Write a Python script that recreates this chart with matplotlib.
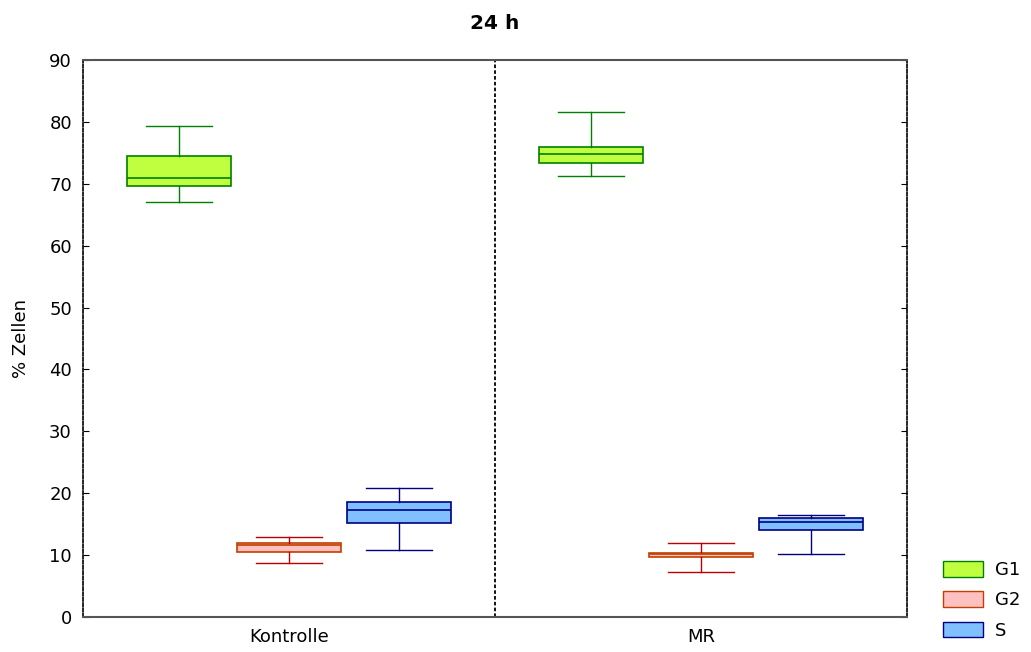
import matplotlib
matplotlib.use("Agg")
import matplotlib.pyplot as plt
from matplotlib.patches import Patch

plt.rcParams['font.family'] = ['DejaVu Sans']

# data (percent of cells)
groups = ["Kontrolle", "MR"]
series = ["G1", "G2", "S"]
whislo = [[67.0, 8.8, 10.8], [71.2, 7.3, 10.2]]
q1 = [[69.6, 10.45, 15.2], [73.3, 9.65, 14.05]]
med = [[70.9, 11.7, 17.3], [74.8, 10.1, 15.3]]
q3 = [[74.5, 11.9, 18.6], [75.9, 10.4, 16.05]]
whishi = [[79.3, 13.0, 20.8], [81.6, 12.0, 16.5]]

fills = ["#C0FF40", "#FFC0C0", "#80C0FF"]
edges = ["#008000", "#C04000", "#000080"]
whisk = ["#008000", "#C00000", "#000080"]

fig = plt.figure(figsize=(10.31, 6.52), dpi=100)
ax = fig.add_axes([0.0805, 0.0537, 0.7992, 0.8543])

offsets = [0.233, 0.5, 0.767]
for g in range(len(groups)):
    for s in range(len(series)):
        st = [dict(whislo=whislo[g][s], q1=q1[g][s], med=med[g][s],
                   q3=q3[g][s], whishi=whishi[g][s], fliers=[])]
        ax.bxp(st, positions=[g + offsets[s]], widths=0.252, patch_artist=True,
               showfliers=False, manage_ticks=False,
               boxprops=dict(facecolor=fills[s], edgecolor=edges[s], linewidth=1.2),
               medianprops=dict(color=edges[s], linewidth=1.2),
               whiskerprops=dict(color=whisk[s], linewidth=1),
               capprops=dict(color=whisk[s], linewidth=1),
               capwidths=0.16)

ax.set_xlim(0, 2)
ax.set_ylim(0, 90)
ax.set_yticks(range(0, 91, 10))
ax.set_xticks([0.5, 1.5])
ax.set_xticklabels(groups, fontsize=13)
ax.tick_params(axis='x', length=0, pad=8)
ax.tick_params(axis='y', direction='in', right=True, labelsize=13, length=4, pad=8)
ax.axvline(1, color='black', linestyle=(0, (2, 1.2)), linewidth=1.3)

for side in ['left', 'right']:
    ax.spines[side].set_linestyle((0, (2, 1.2)))
    ax.spines[side].set_color('black')
    ax.spines[side].set_linewidth(1.2)
for side in ['top', 'bottom']:
    ax.spines[side].set_color('#555555')
    ax.spines[side].set_linewidth(1.5)

ax.set_ylabel("% Zellen", fontsize=13, labelpad=14)
ax.set_title("24 h", fontsize=14.5, fontweight='bold', pad=22)

handles = [Patch(facecolor=fills[i], edgecolor=edges[i], label=series[i]) for i in range(3)]
fig.legend(handles=handles, loc='lower left', bbox_to_anchor=(0.9146, 0.019),
           frameon=False, fontsize=13, handlelength=2.2, handleheight=0.95,
           labelspacing=0.68, handletextpad=0.7, borderpad=0, borderaxespad=0)

fig.savefig("out.png", dpi=100)
